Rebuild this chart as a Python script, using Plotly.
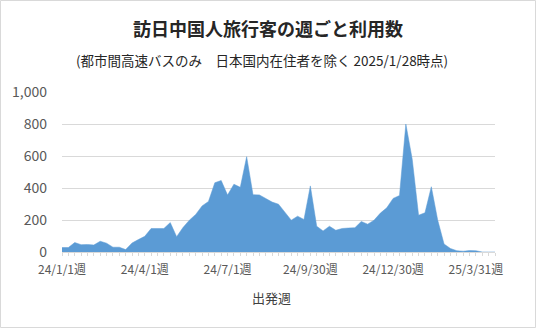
import plotly.graph_objects as go

# ---- data ----
weekly_users = [
    28, 28, 59, 46, 47, 44, 67, 55, 30, 30,
    15, 56, 78, 98, 147, 148, 147, 184, 96, 153,
    199, 235, 288, 316, 433, 447, 356, 424, 404, 596,
    358, 357, 335, 312, 299, 250, 199, 224, 203, 413,
    161, 132, 161, 136, 147, 150, 152, 191, 174, 199,
    243, 276, 335, 353, 800, 580, 230, 245, 408, 200,
    50, 22, 8, 5, 9, 8, 0, 0, 0,
]
week_index = list(range(len(weekly_users)))
tick_positions = [0, 13, 26, 39, 52, 65]
tick_labels = ["24/1/1週", "24/4/1週", "24/7/1週", "24/9/30週", "24/12/30週", "25/3/31週"]
y_ticks = [0, 200, 400, 600, 800, 1000]
y_tick_labels = ["0", "200", "400", "600", "800", "1,000"]

title_text = "訪日中国人旅行客の週ごと利用数"
subtitle_text = "(都市間高速バスのみ　日本国内在住者を除く 2025/1/28時点)"
x_title = "出発週"

FONT = "Noto Sans CJK JP"
W, H = 536, 328
ML, MR, MT, MB = 62, 41, 92, 76
PW, PH = W - ML - MR, H - MT - MB

fig = go.Figure()
fig.add_trace(go.Scatter(
    x=week_index, y=weekly_users, mode="lines",
    fill="tozeroy", fillcolor="#5B9BD5",
    line=dict(color="#5B9BD5", width=0.5),
    hoverinfo="skip", showlegend=False,
))

fig.update_layout(
    width=W, height=H,
    margin=dict(l=ML, r=MR, t=MT, b=MB, pad=0),
    paper_bgcolor="white", plot_bgcolor="white",
    font=dict(family=FONT, color="#595959"),
    xaxis=dict(
        range=[0, len(weekly_users) - 1],
        tickmode="array", tickvals=tick_positions, ticktext=tick_labels,
        tickfont=dict(size=12, color="#595959", family=FONT),
        ticks="outside", ticklen=3, tickcolor="#D9D9D9", tickwidth=1,
        minor=dict(dtick=1, ticks="outside", ticklen=3, tickcolor="#D9D9D9", tickwidth=1, showgrid=False),
        showline=True, linecolor="#D9D9D9", linewidth=1,
        showgrid=False, zeroline=False, fixedrange=True,
        ticklabelstandoff=4,
    ),
    yaxis=dict(
        range=[0, 1000],
        tickmode="array", tickvals=y_ticks, ticktext=y_tick_labels,
        tickfont=dict(size=14, color="#595959", family=FONT),
        showgrid=True, gridcolor="#D9D9D9", gridwidth=1,
        zeroline=False, showline=False, ticks="",
        ticklabelstandoff=14, fixedrange=True,
    ),
)

def px_x(p):
    return (p - ML) / PW

def px_y(p):
    return (MT + PH - p) / PH

fig.add_annotation(text="<b>" + title_text + "</b>", x=px_x(268), y=px_y(27.5),
                   xref="paper", yref="paper", showarrow=False,
                   font=dict(size=18, color="#262626", family=FONT),
                   xanchor="center", yanchor="middle")
fig.add_annotation(text=subtitle_text, x=px_x(262), y=px_y(60),
                   xref="paper", yref="paper", showarrow=False,
                   font=dict(size=13.5, color="#262626", family=FONT),
                   xanchor="center", yanchor="middle")
fig.add_annotation(text=x_title, x=px_x(271), y=px_y(297),
                   xref="paper", yref="paper", showarrow=False,
                   font=dict(size=13, color="#404040", family=FONT),
                   xanchor="center", yanchor="middle")

fig.add_shape(type="rect", xref="paper", yref="paper",
              x0=px_x(0.5), x1=px_x(W - 0.5), y0=px_y(H - 0.5), y1=px_y(0.5),
              line=dict(color="#D9D9D9", width=1), fillcolor="rgba(0,0,0,0)", layer="above")

fig.write_html("out.html")
